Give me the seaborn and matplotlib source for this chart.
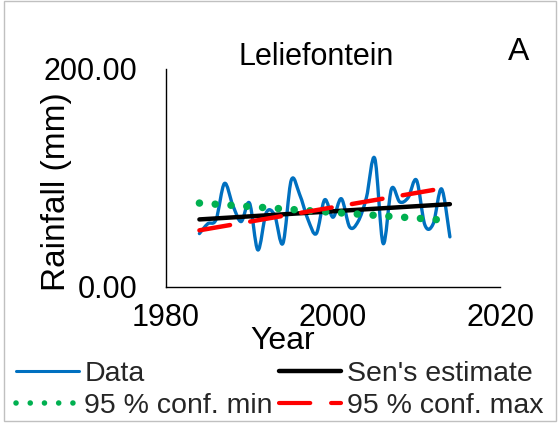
import matplotlib
matplotlib.use('Agg')
import matplotlib.pyplot as plt
import seaborn as sns
import numpy as np
import pandas as pd
from matplotlib.path import Path
from matplotlib.patches import PathPatch, Rectangle
from matplotlib.lines import Line2D

# ---- data ----
years = list(range(1984, 2015))
rainfall = [49, 58, 62, 95, 75, 60, 77, 34, 68, 66, 40, 98, 85, 62, 49, 80,
            64, 81, 55, 60, 82, 118, 40, 90, 78, 82, 98, 57, 58, 90, 46]
sen_years = [1984, 2014]
sen_values = [62, 76]
conf_min_years = [1984, 2014]
conf_min_values = [77, 61]
conf_max_years = [1984, 2012]
conf_max_values = [52, 89]
x_ticks = [1980, 2000, 2020]
y_ticks = [0, 200]
y_tick_labels = ['0.00', '200.00']
title = 'Leliefontein'
panel = 'A'

sns.set_theme(style='white')
plt.rcParams['font.family'] = ['Liberation Sans', 'DejaVu Sans']

W, H = 560, 423
fig = plt.figure(figsize=(W / 100, H / 100), dpi=100)
fig.patch.set_facecolor('white')


def fx(px):
    return px / W


def fy(py):
    return 1 - py / H


ax = fig.add_axes([fx(166), fy(287), fx(500) - fx(166), fy(69) - fy(287)])
ax.set_facecolor('white')

BLUE = '#0070C0'
GREEN = '#00B050'
RED = '#FF0000'

# smoothed data line (Excel-style smooth curve through the points)
df = pd.DataFrame({'year': years, 'rain': rainfall})
pts = df[['year', 'rain']].to_numpy(dtype=float)
n = len(pts)
verts = [tuple(pts[0])]
codes = [Path.MOVETO]
for i in range(n - 1):
    p0 = pts[i - 1] if i > 0 else pts[i]
    p1 = pts[i]
    p2 = pts[i + 1]
    p3 = pts[i + 2] if i + 2 < n else pts[i + 1]
    c1 = p1 + (p2 - p0) / 6.0
    c2 = p2 - (p3 - p1) / 6.0
    verts += [tuple(c1), tuple(c2), tuple(p2)]
    codes += [Path.CURVE4] * 3
ax.add_patch(PathPatch(Path(verts, codes), facecolor='none', edgecolor=BLUE,
                       lw=2.4, joinstyle='round', capstyle='round', zorder=2))

sns.lineplot(x=sen_years, y=sen_values, ax=ax, color='black', lw=3.2,
             legend=False, zorder=3, solid_capstyle='round')
sns.lineplot(x=conf_min_years, y=conf_min_values, ax=ax, color=GREEN, lw=5.4,
             linestyle=(0, (0.01, 2.1)), dash_capstyle='round', legend=False, zorder=4)
sns.lineplot(x=conf_max_years, y=conf_max_values, ax=ax, color=RED, lw=3.2,
             linestyle=(0, (7, 4.6)), dash_capstyle='round', legend=False, zorder=5)

ax.set_xlim(1980, 2020)
ax.set_ylim(0, 200)
ax.set_xticks(x_ticks)
ax.set_xticklabels([str(t) for t in x_ticks], fontsize=22)
ax.set_yticks(y_ticks)
ax.set_yticklabels(y_tick_labels, fontsize=22)
ax.set_xlabel('')
ax.set_ylabel('')
ax.tick_params(axis='both', direction='out', length=6.5, width=1, colors='black')
ax.tick_params(axis='y', pad=14)
ax.tick_params(axis='x', pad=5)
for s in ['top', 'right']:
    ax.spines[s].set_visible(False)
for s in ['left', 'bottom']:
    ax.spines[s].set_color('black')
    ax.spines[s].set_linewidth(1)
ax.grid(False)

fig.text(fx(316), fy(57), title, ha='center', va='center', fontsize=22, color='black')
fig.text(fx(519), fy(52), panel, ha='center', va='center', fontsize=23, color='black')
fig.text(fx(283), fy(341), 'Year', ha='center', va='center', fontsize=23, color='black')
fig.text(fx(57), fy(192), 'Rainfall (mm)', ha='center', va='center', rotation=90,
         fontsize=24, color='black')

handles = [
    Line2D([], [], color=BLUE, lw=2.2),
    Line2D([], [], color=GREEN, lw=4.0, linestyle=(0, (0.01, 2.55)), dash_capstyle='round'),
    Line2D([], [], color='black', lw=3.2),
    Line2D([], [], color=RED, lw=3.0, linestyle=(0, (7.5, 5)), dash_capstyle='round'),
]
labels = ['Data', '95 % conf. min', "Sen's estimate", '95 % conf. max']
fig.legend(handles, labels, ncol=2, loc='upper left',
           bbox_to_anchor=(fx(16), fy(361)), frameon=False, fontsize=20.5,
           handlelength=2.2, handletextpad=0.2, columnspacing=0.2,
           labelspacing=0.22, borderpad=0, borderaxespad=0)

fig.add_artist(Rectangle((fx(4), fy(421)), fx(556) - fx(4), fy(1) - fy(421),
                         transform=fig.transFigure, fill=False,
                         edgecolor='#c0c0c0', lw=1))

fig.savefig('out.png', dpi=100)
